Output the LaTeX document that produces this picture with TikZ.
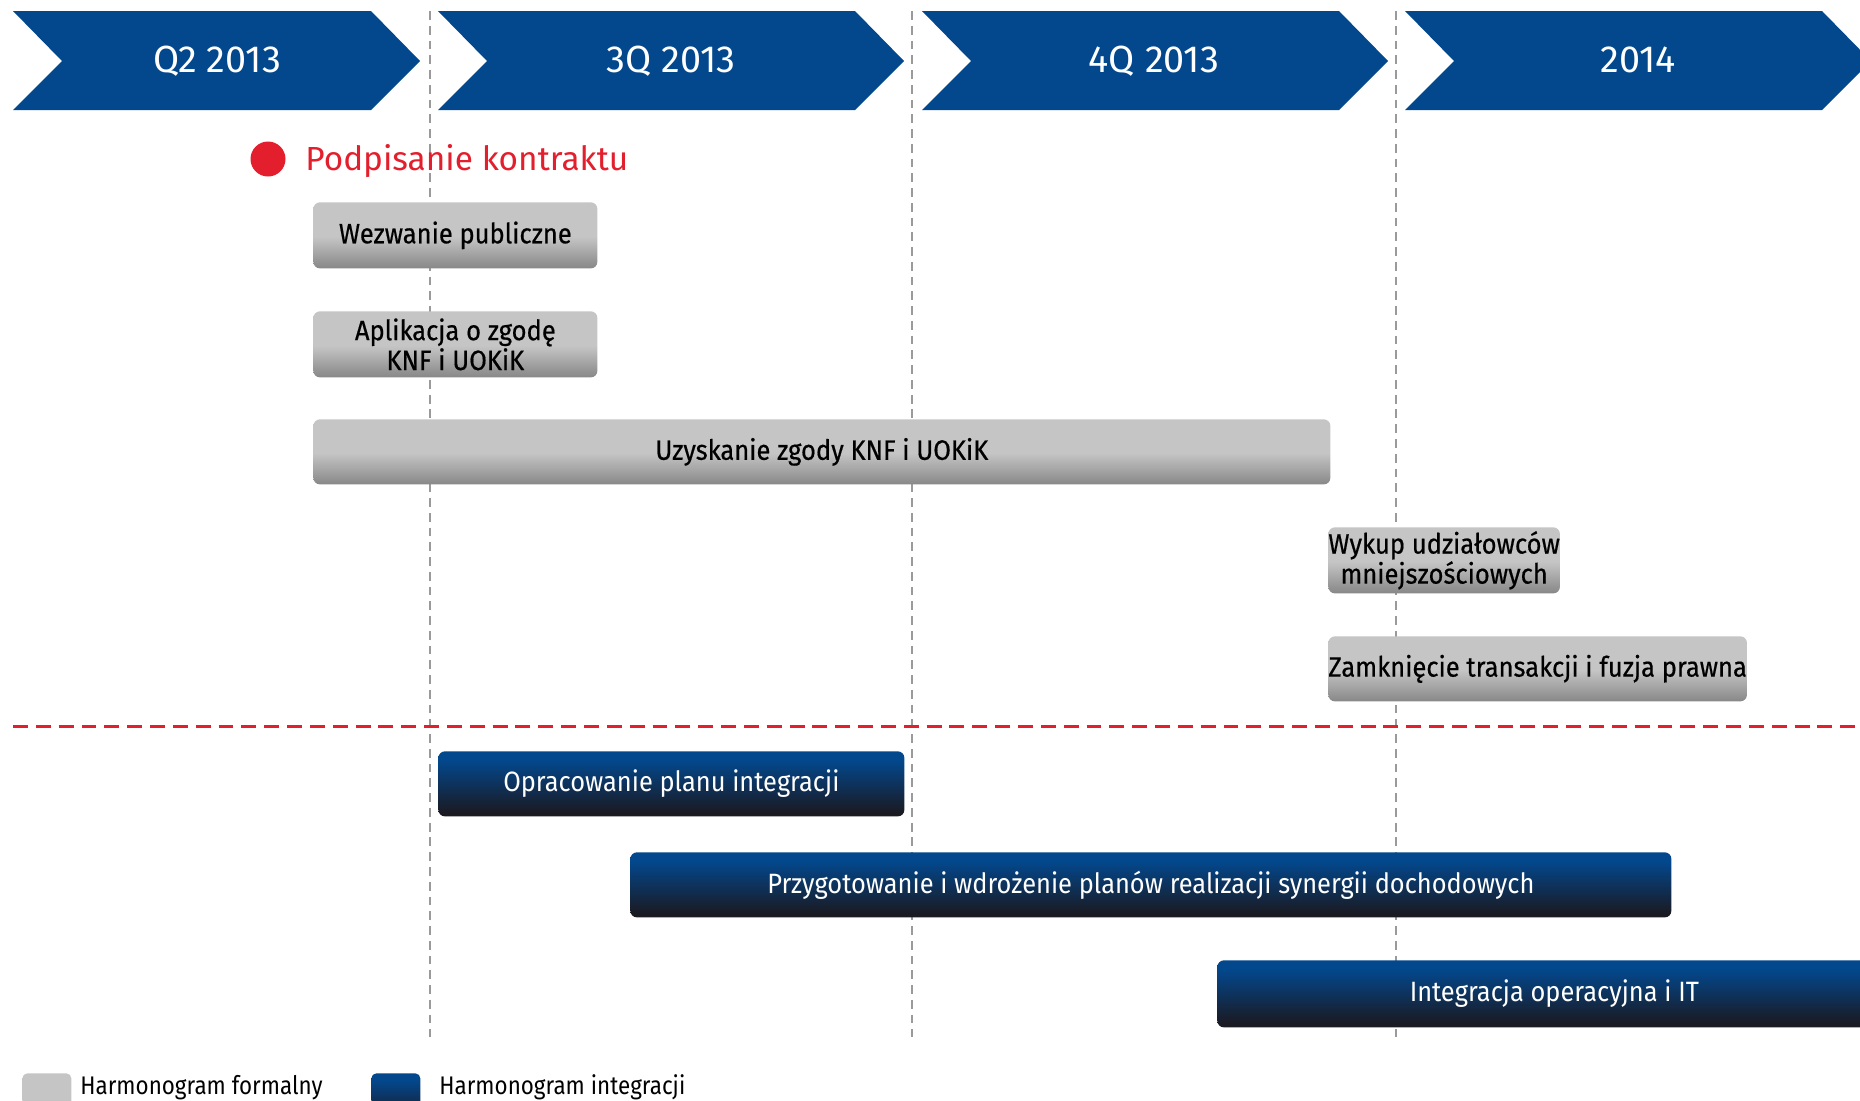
\documentclass[tikz,border=0pt]{standalone}
\usepackage{fontspec}
\setmainfont{Fira Sans}
\newfontfamily\boxfont[FakeStretch=0.915,FakeBold=0.5]{Fira Sans}
\newfontfamily\blueboxfont[FakeStretch=0.91]{Fira Sans}
\newfontfamily\legfont[FakeStretch=0.88]{Fira Sans}
\definecolor{chev}{HTML}{03488D}
\definecolor{ingred}{HTML}{E31F2D}
\definecolor{gl}{HTML}{C5C5C5}
\definecolor{gd}{HTML}{878787}
\definecolor{bl}{HTML}{03478C}
\definecolor{bd}{HTML}{1A1A22}
\definecolor{dashgray}{HTML}{9A9A9A}
\pgfdeclareverticalshading{grayshade}{100bp}{color(0bp)=(gd); color(25bp)=(gd); color(49bp)=(gl); color(100bp)=(gl)}
\pgfdeclareverticalshading{blueshade}{100bp}{color(0bp)=(bd); color(28bp)=(bd); color(68bp)=(bl); color(100bp)=(bl)}
\tikzset{
  sz/.style 2 args={minimum width=#1*0.02cm, minimum height=#2*0.02cm},
  boxbase/.style={rounded corners=0.13cm, shade, inner sep=0pt, align=center, anchor=north west},
  graybox/.style={boxbase, shading=grayshade, text=black, font=\boxfont\fontsize{15.9}{15.9}\selectfont},
  bluebox/.style={boxbase, shading=blueshade, text=white, font=\blueboxfont\fontsize{15.9}{15.9}\selectfont},
  chevtext/.style={anchor=base, text=white, font=\fontsize{21.5}{22}\selectfont},
  vdash/.style={dashgray, line width=1.1pt, dash pattern=on 5pt off 3.4pt},
  hdash/.style={ingred, line width=1.7pt, dash pattern=on 8.5pt off 4.5pt},
  legtext/.style={anchor=base west, inner sep=0pt, font=\legfont\fontsize{14.5}{14.5}\selectfont},
  legsq/.style={rounded corners=0.1cm, shade, inner sep=0pt, anchor=north west, minimum width=49*0.02cm, minimum height=50*0.02cm}
}
\begin{document}
\begin{tikzpicture}[x=0.02cm, y=-0.02cm]
\useasboundingbox (0,0) rectangle (1860,1100);
% chevrons
\fill[chev] (13,11) -- (371,11) -- (420,61) -- (371,110) -- (13,110) -- (62,61) -- cycle;
\fill[chev] (438,11) -- (855,11) -- (904,61) -- (855,110) -- (438,110) -- (487,61) -- cycle;
\fill[chev] (922,11) -- (1339,11) -- (1388,61) -- (1339,110) -- (922,110) -- (971,61) -- cycle;
\fill[chev] (1405,11) -- (1822,11) -- (1871,61) -- (1822,110) -- (1405,110) -- (1454,61) -- cycle;
\node[chevtext] (q2) at (217,72) {Q2 2013};
\node[chevtext] (q3) at (671,72) {3Q 2013};
\node[chevtext] (q4) at (1154,72) {4Q 2013};
\node[chevtext] (y14) at (1638,72) {2014};
% vertical dashed separators
\coordinate (v1t) at (430,11); \coordinate (v1b) at (430,1037);
\coordinate (v2t) at (912,11); \coordinate (v2b) at (912,1037);
\coordinate (v3t) at (1396,11); \coordinate (v3b) at (1396,1037);
\draw[vdash] (v1t) -- (v1b);
\draw[vdash] (v2t) -- (v2b);
\draw[vdash] (v3t) -- (v3b);
% horizontal red dashed
\coordinate (hl) at (13,726); \coordinate (hr) at (1860,726);
\draw[hdash] (hl) -- (hr);
% milestone
\fill[ingred] (268,159) circle[radius=17.5];
\node[anchor=base west, text=ingred, font=\fontsize{19}{20}\selectfont, inner sep=0pt] (podp) at (305,170) {Podpisanie kontraktu};
% formal schedule
\node[graybox, sz={284}{66}] (wez) at (313,202) {Wezwanie publiczne};
\node[graybox, sz={284}{66}] (apl) at (313,311) {Aplikacja o zgodę\\KNF i UOKiK};
\node[graybox, sz={1017}{65}] (uzy) at (313,419) {Uzyskanie zgody KNF i UOKiK};
\node[graybox, sz={217}{66}] (wyk) at (1328,527) {Wykup udziałowców\\mniejszościowych};
\node[graybox, sz={396}{65}] (zam) at (1328,636) {Zamknięcie transakcji i fuzja prawna};
% integration schedule
\node[bluebox, sz={466}{65}] (opr) at (438,751) {Opracowanie planu integracji};
\node[bluebox, sz={1041}{65}] (prz) at (630,852) {Przygotowanie i wdrożenie planów realizacji synergii dochodowych};
\node[bluebox, sz={674}{67}] (int) at (1217,960) {Integracja operacyjna i IT};
% legend
\node[legsq, shading=grayshade] (lg1) at (22,1073) {};
\node[legtext] (lt1) at (80,1094) {Harmonogram formalny};
\node[legsq, shading=blueshade] (lg2) at (371,1073) {};
\node[legtext] (lt2) at (439,1094) {Harmonogram integracji};
\end{tikzpicture}
\end{document}
